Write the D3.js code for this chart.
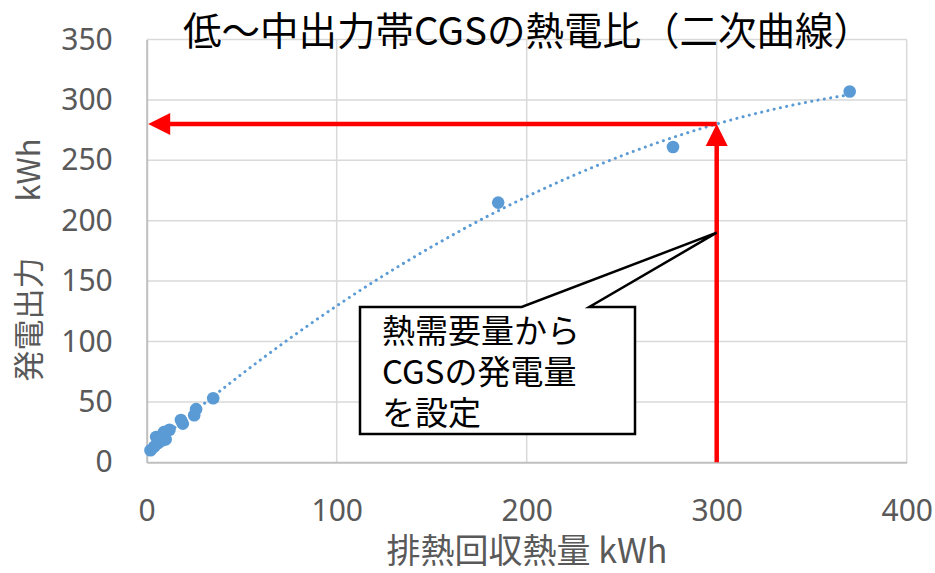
<!DOCTYPE html>
<html>
<head>
<meta charset="utf-8">
<script src="https://cdn.jsdelivr.net/npm/d3@7"></script>
<style>
  body { margin: 0; background: #fff; }
  svg { display: block; }
</style>
</head>
<body>
<script>
// Measured CGS operating points: recovered exhaust heat vs. generated power (kWh)
const heatRecovered = [2, 4, 6, 8, 9, 5, 10, 12, 18, 19, 25, 26, 35, 185, 277, 370];
const powerOutput   = [10, 13, 16, 18, 25, 21, 19, 27, 35, 32, 39, 44, 53, 215, 261, 307];

const xTicks = [0, 100, 200, 300, 400];
const yTicks = [0, 50, 100, 150, 200, 250, 300, 350];

const titleText  = "低～中出力帯CGSの熱電比（二次曲線）";
const xTitleText = "排熱回収熱量 kWh";
const yTitleMain = "発電出力";
const yTitleUnit = "kWh";

// Heat demand used to read the CGS output off the curve
const targetHeat = 300;
const calloutLines = ["熱需要量から", "CGSの発電量", "を設定"];

// ---- layout ----
const W = 935, H = 573;
const plot = { left: 146.7, right: 906.7, top: 39.5, bottom: 462.3 };
const tickFont = "'Noto Sans', 'Liberation Sans', sans-serif";
const cjkFont = "'Noto Sans CJK JP', 'Noto Sans', sans-serif";
const grey = "#595959";
const blue = "#5b9bd5";
const red = "#ff0000";

const svg = d3.select("body").append("svg").attr("width", W).attr("height", H);

const x = d3.scaleLinear().domain([0, 400]).range([plot.left, plot.right]);
const y = d3.scaleLinear().domain([0, 350]).range([plot.bottom, plot.top]);

// ---- second-order least-squares trendline ----
function quadFit(xs, ys) {
  const S = [0, 0, 0, 0, 0], T = [0, 0, 0];
  xs.forEach((xi, i) => {
    let p = 1;
    for (let k = 0; k < 5; k++) { S[k] += p; if (k < 3) T[k] += p * ys[i]; p *= xi; }
  });
  const A = [[S[0], S[1], S[2], T[0]], [S[1], S[2], S[3], T[1]], [S[2], S[3], S[4], T[2]]];
  for (let c = 0; c < 3; c++) {
    for (let r = c + 1; r < 3; r++) {
      const f = A[r][c] / A[c][c];
      for (let k = c; k < 4; k++) A[r][k] -= f * A[c][k];
    }
  }
  const sol = [0, 0, 0];
  for (let r = 2; r >= 0; r--) {
    let s = A[r][3];
    for (let k = r + 1; k < 3; k++) s -= A[r][k] * sol[k];
    sol[r] = s / A[r][r];
  }
  return sol; // [a, b, c] for a + b x + c x^2
}
const coef = quadFit(heatRecovered, powerOutput);
const trend = v => coef[0] + coef[1] * v + coef[2] * v * v;
const targetPower = trend(targetHeat);

// ---- gridlines ----
const grid = svg.append("g");
grid.selectAll("line.v").data(xTicks.slice(1)).join("line")
  .attr("x1", d => x(d)).attr("x2", d => x(d))
  .attr("y1", plot.top).attr("y2", plot.bottom)
  .attr("stroke", "#d9d9d9").attr("stroke-width", 1.5);
grid.selectAll("line.h").data(yTicks.slice(1)).join("line")
  .attr("x1", plot.left).attr("x2", plot.right)
  .attr("y1", d => y(d)).attr("y2", d => y(d))
  .attr("stroke", "#d9d9d9").attr("stroke-width", 1.5);

// ---- axes ----
const xAxis = svg.append("g")
  .attr("transform", `translate(0,${plot.bottom})`)
  .call(d3.axisBottom(x).tickValues(xTicks).tickSize(0).tickPadding(37));
const yAxis = svg.append("g")
  .attr("transform", `translate(${plot.left},0)`)
  .call(d3.axisLeft(y).tickValues(yTicks).tickSize(0).tickPadding(34));
[xAxis, yAxis].forEach(g => {
  g.select(".domain").attr("stroke", "#bfbfbf").attr("stroke-width", 2);
  g.selectAll("text").attr("fill", grey)
    .style("font-family", tickFont).style("font-size", "30px");
});

// ---- trendline (dotted) ----
const xExt = d3.extent(heatRecovered);
const samples = d3.range(0, 121).map(i => xExt[0] + (xExt[1] - xExt[0]) * i / 120);
svg.append("path")
  .attr("d", d3.line().x(d => x(d)).y(d => y(trend(d)))(samples))
  .attr("fill", "none").attr("stroke", blue).attr("stroke-width", 3)
  .attr("stroke-linecap", "round").attr("stroke-dasharray", "0.1 6.3");

// ---- points ----
svg.append("g").selectAll("circle")
  .data(heatRecovered.map((h, i) => [h, powerOutput[i]]))
  .join("circle")
  .attr("cx", d => x(d[0])).attr("cy", d => y(d[1])).attr("r", 6.3)
  .attr("fill", blue);

// ---- red guide arrows ----
const ax = x(targetHeat), ay = y(targetPower);
const head = 22, half = 11;
svg.append("line")
  .attr("x1", ax).attr("y1", plot.bottom).attr("x2", ax).attr("y2", ay + head - 1)
  .attr("stroke", red).attr("stroke-width", 4.5);
svg.append("path")
  .attr("d", `M${ax},${ay}L${ax - half},${ay + head}L${ax + half},${ay + head}Z`)
  .attr("fill", red);
const leftTip = plot.left + 1.5;
svg.append("line")
  .attr("x1", ax).attr("y1", ay).attr("x2", leftTip + head - 1).attr("y2", ay)
  .attr("stroke", red).attr("stroke-width", 4.5);
svg.append("path")
  .attr("d", `M${leftTip},${ay}L${leftTip + head},${ay - half}L${leftTip + head},${ay + half}Z`)
  .attr("fill", red);

// ---- callout ----
const box = { x0: 360, y0: 307, x1: 635, y1: 434 };
const tip = [x(targetHeat), 232.7];
svg.append("path")
  .attr("d", `M${box.x0},${box.y0}L521.7,${box.y0}L${tip[0]},${tip[1]}L589.3,${box.y0}` +
             `L${box.x1},${box.y0}L${box.x1},${box.y1}L${box.x0},${box.y1}Z`)
  .attr("fill", "#fff").attr("stroke", "#000").attr("stroke-width", 2.5)
  .attr("stroke-linejoin", "miter");
svg.append("text")
  .attr("y", 343)
  .attr("fill", "#000")
  .style("font-family", cjkFont).style("font-size", "33px")
  .selectAll("tspan").data(calloutLines).join("tspan")
  .attr("x", 382).attr("dy", (d, i) => i === 0 ? 0 : 41)
  .text(d => d);

// ---- titles ----
svg.append("text")
  .attr("x", 527.5).attr("y", 45).attr("text-anchor", "middle")
  .attr("fill", "#000")
  .style("font-family", cjkFont).style("font-size", "38.5px")
  .text(titleText);

svg.append("text")
  .attr("x", 527).attr("y", 563).attr("text-anchor", "middle")
  .attr("fill", grey)
  .style("font-family", cjkFont).style("font-size", "34px")
  .text(xTitleText);

const yTitle = svg.append("text")
  .attr("transform", "translate(40,260) rotate(-90)")
  .attr("text-anchor", "middle").attr("fill", grey)
  .style("font-family", cjkFont).style("font-size", "31px");
yTitle.append("tspan").text(yTitleMain);
yTitle.append("tspan").attr("dx", 56).text(yTitleUnit);
</script>
</body>
</html>
